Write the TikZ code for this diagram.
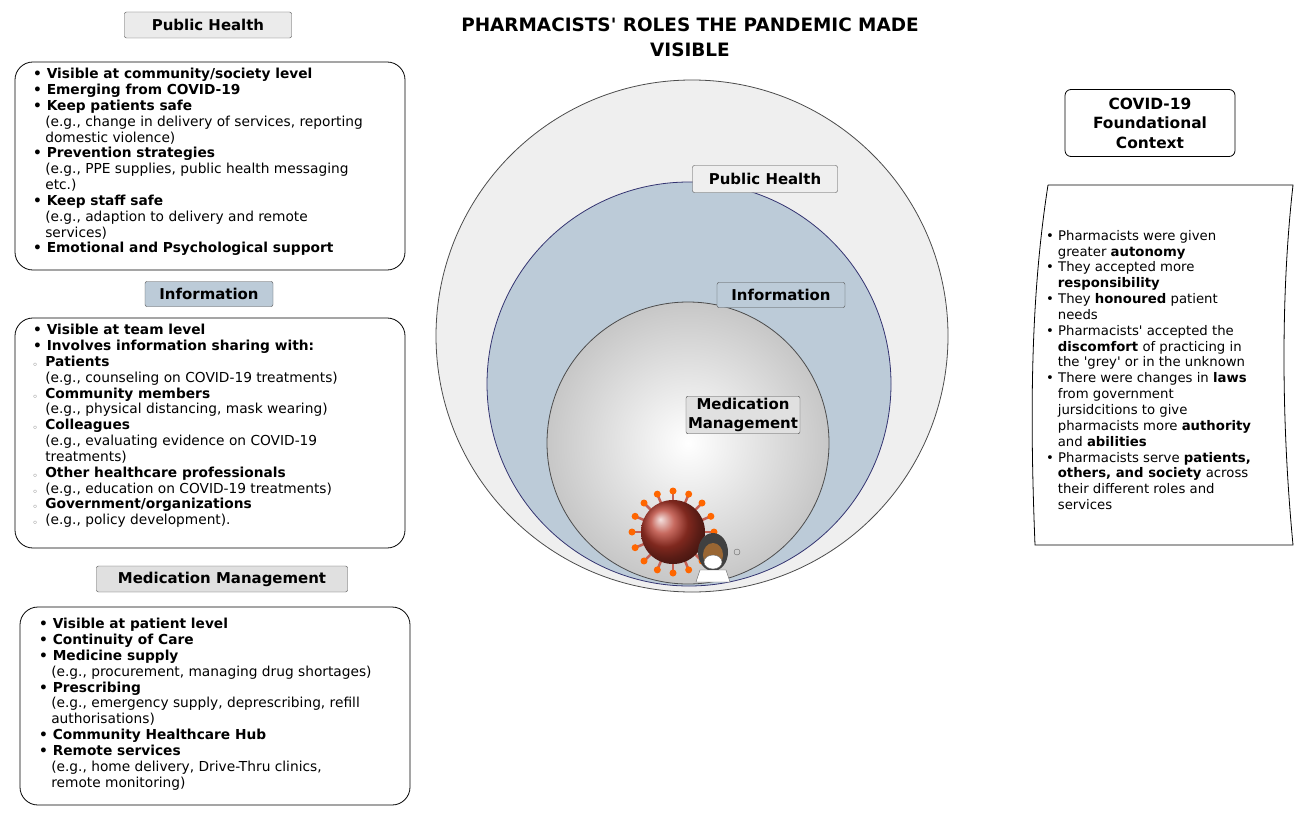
\documentclass[tikz,border=0pt]{standalone}
\usepackage{fontspec}
\setmainfont{DejaVu Sans}
\usetikzlibrary{positioning, calc}
\definecolor{ringblue}{HTML}{BCCBD8}
\definecolor{ringgray}{HTML}{EFEFEF}
\definecolor{virusred}{HTML}{B5392B}
\tikzset{
  header/.style={draw=black!70, rounded corners=2pt, inner sep=2pt, font=\bfseries\fontsize{15}{17}\selectfont},
  listbox/.style={draw, thick, rounded corners=18pt},
  listtext/.style={align=left, anchor=north west, inner sep=0pt, font=\fontsize{13.8}{15.9}\selectfont},
}
\newcommand{\bul}{\textbullet~}
\newcommand{\ind}{\hspace*{0.88em}}
\newcommand{\sub}{\makebox[0.88em][l]{\color{black!55}\scriptsize$\circ$}}
\newcommand{\q}{\textquotesingle}
\begin{document}
\begin{tikzpicture}[x=1bp, y=-1bp]
        \useasboundingbox[fill=white] (0,0) rectangle (1310,822);

        % Title
        \node[font=\bfseries\fontsize{18.5}{25}\selectfont, align=center] (Title) at (690,37)
            {PHARMACISTS\q{} ROLES THE PANDEMIC MADE\\VISIBLE};

        % Nested circles
        \draw[thick, black!70, fill=ringgray] (692,336) circle (256);
        \draw[thick, blue!30!black!80, fill=ringblue] (689,384) circle (202);
        \shade[inner color=white, outer color=black!22, draw=black!70, thick] (688,443) circle (141);
        \node[header, fill=ringgray, minimum width=145bp, minimum height=27bp] (PHring) at (765,179) {Public Health};
        \node[header, fill=ringblue, minimum width=128bp, minimum height=25bp] (INring) at (781,295) {Information};
        \node[header, fill=black!12, align=center, font=\bfseries\fontsize{15}{19}\selectfont] (MMring) at (743,415) {Medication\\Management};

        % Virus and pharmacist
        \foreach \a in {0,22.5,...,337.5} {
            \draw[virusred!80, line width=2.5pt] ($(673,532)+(\a:30)$) -- ($(673,532)+(\a:40)$);
            \fill[orange!80!red] ($(673,532)+(\a:41)$) circle (3.5);
        }
        \shade[ball color=virusred] (673,532) circle (32);
        \fill[black!75] (713,552) ellipse (15 and 19);
        \fill[brown!80!black] (713,555) ellipse (10 and 12);
        \fill[white, draw=black!60] (713,562) ellipse (9 and 7);
        \fill[white, draw=black!60] (696,582) -- (700,570) -- (726,570) -- (730,582) -- cycle;
        \draw[black!60] (737,552) circle (3);

        % Left column
        \node[header, fill=black!8, minimum width=167bp, minimum height=26bp] (PHhead) at (208,25) {Public Health};
        \draw[listbox] (15,62) rectangle (405,270);
        \node[listtext] (PHlist) at (33,68) {%
            \textbf{\bul Visible at community/society level}\\
            \textbf{\bul Emerging from COVID-19}\\
            \textbf{\bul Keep patients safe}\\
            \ind(e.g., change in delivery of services, reporting\\
            \ind domestic violence)\\
            \textbf{\bul Prevention strategies}\\
            \ind(e.g., PPE supplies, public health messaging\\
            \ind etc.)\\
            \textbf{\bul Keep staff safe}\\
            \ind(e.g., adaption to delivery and remote\\
            \ind services)\\
            \textbf{\bul Emotional and Psychological support}};

        \node[header, fill=ringblue, minimum width=128bp, minimum height=25bp] (INhead) at (209,294) {Information};
        \draw[listbox] (15,318) rectangle (405,548);
        \node[listtext] (INlist) at (33,324) {%
            \textbf{\bul Visible at team level}\\
            \textbf{\bul Involves information sharing with:}\\
            \sub\textbf{Patients}\\
            \ind(e.g., counseling on COVID-19 treatments)\\
            \sub\textbf{Community members}\\
            \ind(e.g., physical distancing, mask wearing)\\
            \sub\textbf{Colleagues}\\
            \ind(e.g., evaluating evidence on COVID-19\\
            \ind treatments)\\
            \sub\textbf{Other healthcare professionals}\\
            \sub(e.g., education on COVID-19 treatments)\\
            \sub\textbf{Government/organizations}\\
            \sub(e.g., policy development).};

        \node[header, fill=black!12, minimum width=251bp, minimum height=26bp] (MMhead) at (222,579) {Medication Management};
        \draw[listbox] (20,607) rectangle (410,805);
        \node[listtext] (MMlist) at (39,618) {%
            \textbf{\bul Visible at patient level}\\
            \textbf{\bul Continuity of Care}\\
            \textbf{\bul Medicine supply}\\
            \ind(e.g., procurement, managing drug shortages)\\
            \textbf{\bul Prescribing}\\
            \ind(e.g., emergency supply, deprescribing, refill\\
            \ind authorisations)\\
            \textbf{\bul Community Healthcare Hub}\\
            \textbf{\bul Remote services}\\
            \ind(e.g., home delivery, Drive-Thru clinics,\\
            \ind remote monitoring)};

        % Right column
        \node[draw, thick, rounded corners=6pt, align=center, minimum width=170bp, minimum height=67bp,
              font=\bfseries\fontsize{15.5}{19.5}\selectfont] (Context) at (1150,123)
            {COVID-19\\Foundational\\Context};
        \draw[thick] (1048,185) -- (1293,185) .. controls (1280,300) and (1282,430) .. (1293,545)
            -- (1035,545) .. controls (1030,420) and (1030,300) .. (1048,185);
        \node[listtext, font=\fontsize{13.3}{15.9}\selectfont] (CTlist) at (1046,230) {%
            \bul Pharmacists were given\\
            \ind greater \textbf{autonomy}\\
            \bul They accepted more\\
            \ind\textbf{responsibility}\\
            \bul They \textbf{honoured} patient\\
            \ind needs\\
            \bul Pharmacists\q{} accepted the\\
            \ind\textbf{discomfort} of practicing in\\
            \ind the \q grey\q{} or in the unknown\\
            \bul There were changes in \textbf{laws}\\
            \ind from government\\
            \ind jursidcitions to give\\
            \ind pharmacists more \textbf{authority}\\
            \ind and \textbf{abilities}\\
            \bul Pharmacists serve \textbf{patients,}\\
            \ind\textbf{others, and society} across\\
            \ind their different roles and\\
            \ind services};
\end{tikzpicture}
\end{document}
